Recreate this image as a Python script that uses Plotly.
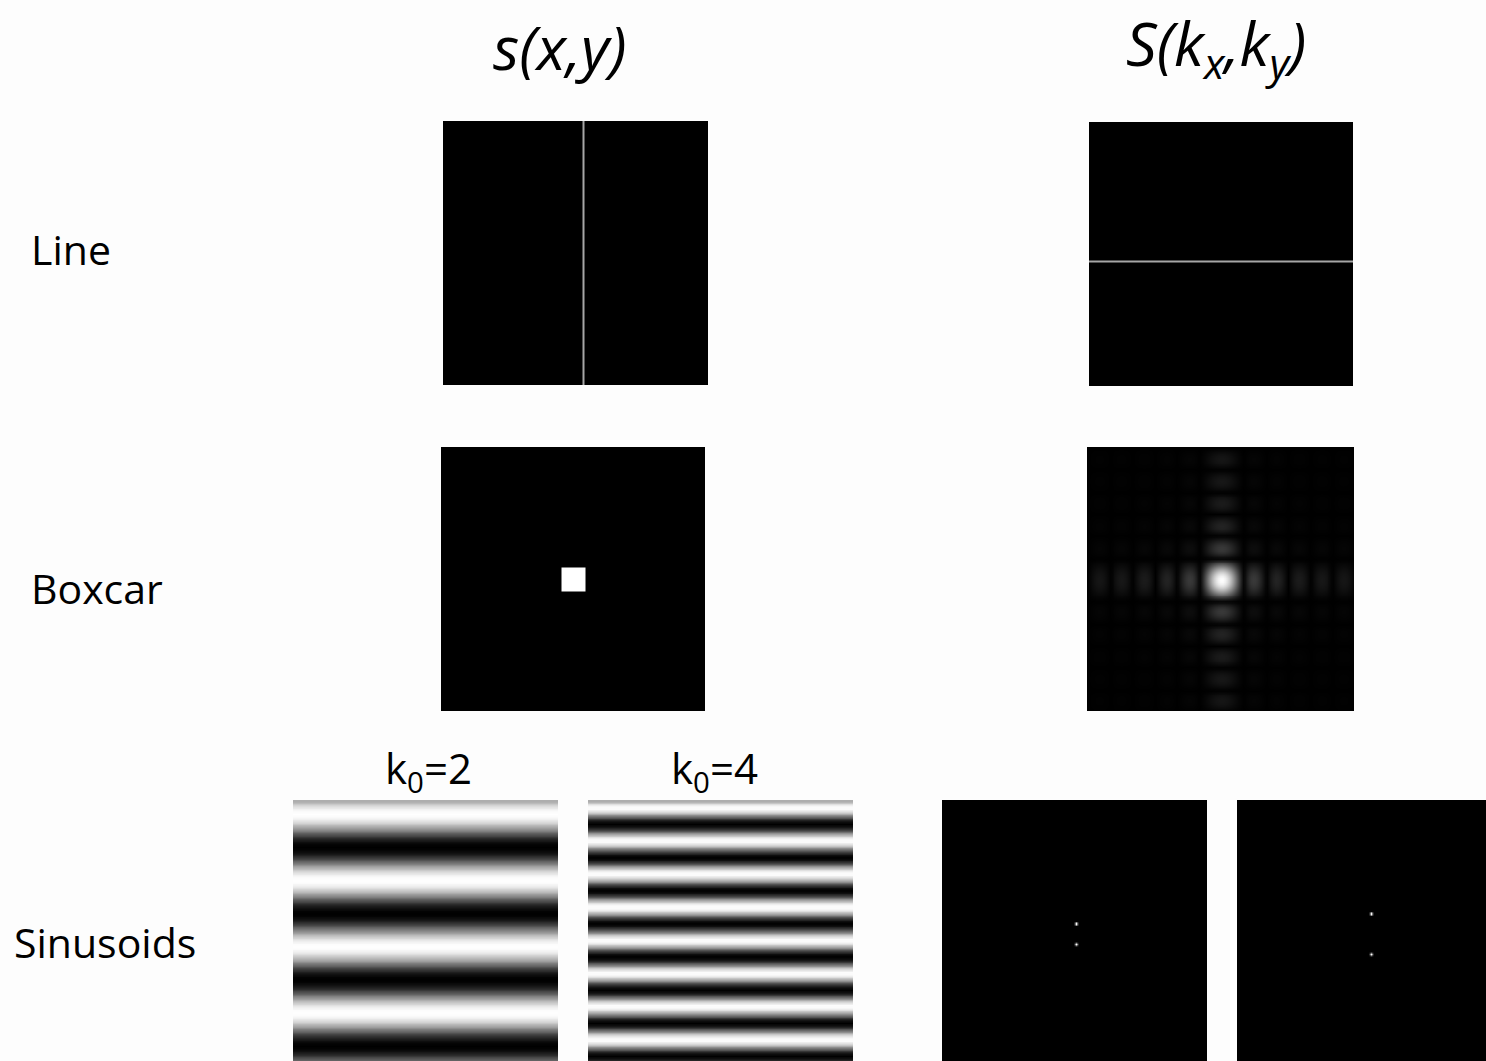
import numpy as np
import plotly.graph_objects as go

# ---- figure geometry (pixels) ----
W, H = 1486, 1061

# ---- signal parameters ----
row_labels = ["Line", "Boxcar", "Sinusoids"]
col_titles = ["<i>s(x,y)</i>", "<i>S(k<sub>x</sub>,k<sub>y</sub>)</i>"]
k0_values = [2, 4]
k0_labels = ["k<sub>0</sub>=2", "k<sub>0</sub>=4"]

line_n = 128            # samples per side of the line images
line_index = 67         # column (image) / row (spectrum) holding the line
line_level = 0.65       # grey level of the thin line

box_n = 136             # samples per side of the boxcar image
box_width = 12          # boxcar width in samples

sin_n = 104             # samples per side of the sinusoid images
sin_phase = -1.2        # phase of the stripes (radians)

# ---- build images ----
line_img = np.zeros((line_n, line_n))
line_img[:, line_index] = line_level
line_spec = np.zeros((line_n, line_n))
line_spec[line_index, :] = line_level

box_img = np.zeros((box_n, box_n))
b0 = box_n // 2 - box_width // 2
box_img[b0:b0 + box_width, b0:b0 + box_width] = 1.0
box_spec = np.abs(np.fft.fftshift(np.fft.fft2(box_img)))
box_spec /= box_spec.max()

yy = np.arange(sin_n)[:, None] * np.ones((1, sin_n))
sin_imgs, sin_specs = [], []
for k0 in k0_values:
    s = np.cos(2 * np.pi * (2 * k0) * yy / sin_n + sin_phase)
    sin_imgs.append(s)
    spec = np.abs(np.fft.fftshift(np.fft.fft2(s)))
    sin_specs.append(spec / spec.max())

# ---- panel placement: (left, top, right, bottom) in pixels ----
panels = [
    (line_img, (443, 121, 708, 385), 0, 1),
    (line_spec, (1089, 122, 1353, 386), 0, 1),
    (box_img, (441, 447, 705, 711), 0, 1),
    (box_spec, (1087, 447, 1354, 711), 0, 1),
    (sin_imgs[0], (293, 800, 558, 1065), -1, 1),
    (sin_imgs[1], (588, 800, 853, 1065), -1, 1),
    (sin_specs[0], (942, 800, 1207, 1065), 0, 0.85),
    (sin_specs[1], (1237, 800, 1502, 1065), 0, 0.85),
]

fig = go.Figure()
gray = [[0, "black"], [1, "white"]]

for i, (img, (l, t, r, b), zmin, zmax) in enumerate(panels):
    n_rows, n_cols = img.shape
    # clip panels that run past the page edge
    vr, vb = min(r, W), min(b, H)
    xfrac = (vr - l) / (r - l)
    yfrac = (vb - t) / (b - t)
    xa = "x" if i == 0 else f"x{i + 1}"
    ya = "y" if i == 0 else f"y{i + 1}"
    fig.add_trace(go.Heatmap(
        z=img, colorscale=gray, zmin=zmin, zmax=zmax, showscale=False,
        zsmooth="best", hoverinfo="skip", xaxis=xa, yaxis=ya))
    xkey = "xaxis" if i == 0 else f"xaxis{i + 1}"
    ykey = "yaxis" if i == 0 else f"yaxis{i + 1}"
    fig.update_layout(**{
        xkey: dict(domain=[l / W, vr / W], range=[-0.5, -0.5 + n_cols * xfrac],
                   visible=False, fixedrange=True, anchor=ya),
        ykey: dict(domain=[1 - vb / H, 1 - t / H],
                   range=[-0.5 + n_rows * yfrac, -0.5],
                   visible=False, fixedrange=True, anchor=xa),
    })

font = "Open Sans"
ann = []
# column titles
for txt, xc in zip(col_titles, [560, 1216]):
    ann.append(dict(text=txt, x=xc / W, y=1 - 46 / H, xref="paper", yref="paper",
                    showarrow=False, xanchor="center", yanchor="middle",
                    font=dict(family=font, size=61, color="black")))
# row labels
for txt, xl, yc in zip(row_labels, [29, 29, 12], [249, 588, 942]):
    ann.append(dict(text=txt, x=xl / W, y=1 - yc / H, xref="paper", yref="paper",
                    showarrow=False, xanchor="left", yanchor="middle",
                    font=dict(family=font, size=41, color="black")))
# sinusoid frequency labels
for txt, xc in zip(k0_labels, [428, 714]):
    ann.append(dict(text=txt, x=xc / W, y=1 - 770 / H, xref="paper", yref="paper",
                    showarrow=False, xanchor="center", yanchor="middle",
                    font=dict(family=font, size=42, color="black")))

fig.update_layout(
    width=W, height=H, margin=dict(l=0, r=0, t=0, b=0),
    paper_bgcolor="#fdfdfd", plot_bgcolor="#fdfdfd",
    annotations=ann, showlegend=False,
)

fig.write_html("out.html")
